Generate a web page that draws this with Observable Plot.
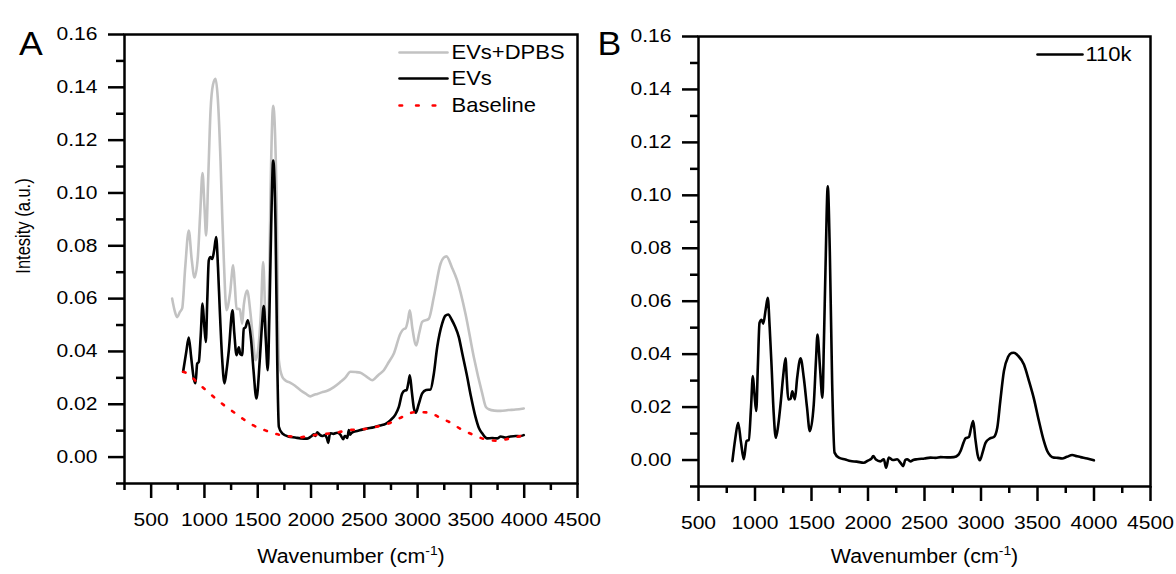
<!DOCTYPE html>
<html><head><meta charset="utf-8">
<script src="https://cdn.jsdelivr.net/npm/d3@7"></script>
<script src="https://cdn.jsdelivr.net/npm/@observablehq/plot@0.6"></script>
<style>
body{margin:0;background:#fff;}
#wrap{position:relative;width:1176px;height:574px;overflow:hidden;background:#fff;}
#wrap svg{position:absolute;top:0;}
</style></head><body><div id="wrap"></div>
<script>
// ---------- Panel A data ----------
const dpbsWn = [697,720,744,770,791,820,853,880,907,938,960,982,1000,1016,1035,1057,1080,1104,1125,1151,1168,1182,1207,1240,1270,1285,1301,1332,1354,1369,1401,1432,1455,1479,1510,1530,1551,1570,1589,1605,1620,1645,1676,1698,1730,1760,1807,1850,1901,1950,1995,2030,2058,2100,2152,2214,2277,2320,2370,2420,2464,2520,2574,2630,2683,2730,2777,2839,2870,2886,2910,2927,2950,2987,3015,3043,3105,3152,3215,3245,3271,3320,3371,3449,3527,3606,3640,3668,3720,3778,3850,3920,3996];
const dpbsVal = [0.060,0.0555,0.053,0.055,0.0563,0.072,0.0858,0.075,0.068,0.0757,0.092,0.1075,0.095,0.0839,0.105,0.131,0.141,0.1432,0.136,0.112,0.090,0.0745,0.0556,0.062,0.0726,0.065,0.0562,0.056,0.0505,0.0575,0.0631,0.0544,0.045,0.0367,0.043,0.055,0.0738,0.055,0.0393,0.060,0.0998,0.133,0.0997,0.0367,0.0304,0.029,0.0281,0.027,0.0253,0.0240,0.0230,0.0236,0.0239,0.0245,0.0251,0.0265,0.0285,0.030,0.0323,0.0322,0.0319,0.0305,0.0291,0.031,0.0329,0.036,0.0392,0.0468,0.0485,0.0487,0.052,0.0556,0.049,0.0423,0.047,0.0512,0.0524,0.0606,0.0732,0.0755,0.076,0.072,0.0669,0.0543,0.0379,0.0241,0.019,0.0181,0.0176,0.0175,0.0178,0.0180,0.0184];

const evsWn = [800,830,853,875,900,916,932,947,965,982,998,1013,1027,1041,1057,1073,1090,1110,1127,1144,1165,1188,1208,1229,1263,1280,1301,1323,1336,1354,1369,1385,1407,1438,1460,1488,1519,1540,1557,1575,1594,1610,1626,1645,1667,1683,1698,1730,1792,1850,1901,1964,2000,2026,2040,2058,2080,2105,2130,2150,2161,2175,2183,2210,2245,2275,2302,2315,2324,2340,2355,2365,2377,2400,2433,2480,2527,2590,2652,2700,2746,2790,2824,2855,2880,2896,2915,2927,2945,2965,2983,3010,3043,3080,3121,3150,3184,3230,3260,3287,3320,3350,3386,3420,3465,3500,3543,3575,3606,3652,3700,3746,3780,3820,3871,3920,3960,3996];
const evsVal = [0.0323,0.040,0.0453,0.038,0.0297,0.028,0.0354,0.036,0.046,0.0581,0.050,0.0436,0.060,0.0745,0.0757,0.0750,0.078,0.0833,0.072,0.0556,0.038,0.0279,0.033,0.0405,0.0556,0.047,0.0386,0.0416,0.039,0.0386,0.0487,0.0491,0.0518,0.0442,0.033,0.0222,0.0367,0.050,0.0572,0.045,0.0329,0.055,0.0871,0.1123,0.0871,0.0367,0.0115,0.009,0.0077,0.0074,0.0071,0.0070,0.0078,0.0086,0.0080,0.0094,0.0085,0.0080,0.0083,0.0070,0.0054,0.0085,0.0090,0.0088,0.0092,0.0085,0.0068,0.0080,0.0080,0.0072,0.0102,0.0085,0.0090,0.0096,0.0099,0.0104,0.0108,0.0113,0.0120,0.0126,0.0140,0.0160,0.0190,0.0241,0.0252,0.0253,0.0285,0.031,0.0250,0.0185,0.0168,0.020,0.0241,0.0254,0.0256,0.031,0.0417,0.0505,0.0535,0.054,0.052,0.0495,0.0455,0.039,0.0304,0.023,0.0152,0.011,0.009,0.0071,0.0072,0.0071,0.0078,0.0074,0.0078,0.0080,0.0079,0.0083];

const baseWn = [800,853,925,1016,1104,1192,1282,1364,1454,1566,1676,1792,1900,1964,2089,2230,2355,2495,2636,2746,2850,2975,3105,3205,3305,3402,3512,3637,3740,3871,3990];
const baseVal = [0.0323,0.0314,0.0285,0.0253,0.0222,0.0194,0.0168,0.0144,0.0121,0.0102,0.0087,0.0079,0.0075,0.0079,0.0086,0.0092,0.0102,0.0106,0.0117,0.013,0.0151,0.0170,0.0169,0.0150,0.0131,0.0107,0.0086,0.0067,0.0062,0.0071,0.0082];

// ---------- Panel B data ----------
const k110Wn = [800,825,851,875,901,925,945,965,981,995,1011,1025,1040,1058,1073,1095,1113,1130,1146,1165,1184,1205,1226,1250,1270,1282,1294,1315,1330,1353,1373,1403,1432,1460,1485,1520,1540,1553,1575,1597,1610,1624,1644,1662,1683,1704,1742,1800,1845,1900,1963,2000,2030,2046,2070,2110,2140,2160,2184,2220,2258,2290,2311,2330,2346,2376,2400,2435,2500,2553,2600,2642,2700,2760,2800,2819,2845,2863,2893,2912,2931,2950,2970,2990,3015,3040,3080,3114,3144,3170,3203,3240,3270,3291,3330,3380,3425,3468,3510,3556,3586,3615,3645,3680,3718,3760,3807,3850,3881,3940,3999];
const k110Val = [-0.0004,0.008,0.0141,0.007,0.0003,0.0072,0.0075,0.020,0.0317,0.025,0.0185,0.035,0.0518,0.053,0.0515,0.057,0.0613,0.050,0.0361,0.018,0.0084,0.013,0.021,0.032,0.0384,0.030,0.0229,0.0231,0.026,0.0229,0.031,0.0384,0.031,0.020,0.0109,0.021,0.038,0.0474,0.035,0.0235,0.045,0.0726,0.1034,0.0789,0.0286,0.0028,0.0009,0.0002,-0.0004,-0.0006,-0.0010,-0.0002,0.0005,0.0015,0.0002,-0.0005,0.0003,-0.0029,0.0009,0.0000,0.0003,-0.0012,-0.0023,0.0000,0.0003,-0.0005,0.0000,0.0003,0.0006,0.0009,0.0008,0.0011,0.0010,0.0011,0.0020,0.0034,0.0065,0.0082,0.0087,0.012,0.0147,0.008,0.002,-0.0001,0.003,0.0065,0.0082,0.0087,0.0122,0.022,0.0336,0.0390,0.0404,0.0405,0.0393,0.0361,0.0298,0.0232,0.0152,0.0072,0.0034,0.0016,0.0009,0.0008,0.0006,0.0012,0.0019,0.0014,0.0011,0.0006,-0.0001];

// ---------- ticks & labels ----------
const xMajor = [500,1000,1500,2000,2500,3000,3500,4000,4500];
const xMinorA = [250,750,1250,1750,2250,2750,3250,3750,4250];
const xMinorB = [750,1250,1750,2250,2750,3250,3750,4250];
const yMajor = [0,0.02,0.04,0.06,0.08,0.10,0.12,0.14,0.16];
const yMinor = [-0.01,0.01,0.03,0.05,0.07,0.09,0.11,0.13,0.15];
const xTitle = "Wavenumber (cm-1)";
const yTitle = "Intesity (a.u.)";
const legendA = ["EVs+DPBS","EVs","Baseline"];
const legendB = ["110k"];

const zip = (w, v) => w.map((x, i) => ({x, y: v[i]}));
const FONT = "'Liberation Sans', Arial, Helvetica, sans-serif";

function axes(minorX) {
  return [
    Plot.axisX({ticks: xMajor, tickSize: 15, tickPadding: 15, strokeWidth: 2.5, tickFormat: d => String(d), label: null, fontSize: 18}),
    Plot.axisX({ticks: minorX, tickSize: 7, strokeWidth: 2.5, tickFormat: () => "", label: null}),
    Plot.axisY({ticks: yMajor, tickSize: 16, tickPadding: 11, strokeWidth: 2.5, tickFormat: d3.format(".2f"), label: null, fontSize: 18}),
    Plot.axisY({ticks: yMinor, tickSize: 8, strokeWidth: 2.5, tickFormat: () => "", label: null}),
    Plot.frame({stroke: "#000", strokeWidth: 2.5})
  ];
}

// legend helper: pixel -> data via the same linear mapping as the panel frame
function legendMarks(items, xd, yd, frame, pos) {
  const sx = d3.scaleLinear([frame.l, frame.r], xd);
  const sy = d3.scaleLinear([frame.b, frame.t], yd);
  const marks = [];
  items.forEach((it, i) => {
    const y = sy(pos.y[i]);
    const x1 = it.dash ? pos.x1d : pos.x1;
    marks.push(Plot.line([{x: sx(pos.x0), y}, {x: sx(x1), y}], {x: "x", y: "y", stroke: it.color, strokeWidth: 2.6, strokeDasharray: it.dash || null}));
    marks.push(Plot.text([it.name], {x: sx(pos.tx), y, text: d => d, textAnchor: "start", fontSize: 20, fill: "#000"}));
  });
  return marks;
}

const wrap = document.getElementById("wrap");

// ---------- Panel A ----------
const frameA = {l: 124, r: 577, t: 34, b: 483};
const plotA = Plot.plot({
  width: 588, height: 574,
  marginTop: 34, marginBottom: 91, marginLeft: 124, marginRight: 11,
  x: {domain: [250, 4500], label: null},
  y: {domain: [-0.01, 0.16], label: null},
  style: {fontFamily: FONT, fontSize: "18px", color: "#000", background: "transparent", overflow: "visible"},
  marks: [
    ...axes(xMinorA),
    Plot.line(zip(dpbsWn, dpbsVal), {x: "x", y: "y", stroke: "#c2c2c2", strokeWidth: 2.6, curve: "monotone-x"}),
    Plot.line(zip(evsWn, evsVal), {x: "x", y: "y", stroke: "#000", strokeWidth: 2.6, curve: "monotone-x"}),
    Plot.line(zip(baseWn, baseVal), {x: "x", y: "y", stroke: "#ff0000", strokeWidth: 2.6, strokeDasharray: "2.6 10", curve: "monotone-x"}),
    ...legendMarks([
      {name: legendA[0], color: "#c2c2c2"},
      {name: legendA[1], color: "#000"},
      {name: legendA[2], color: "#ff0000", dash: "2.6 14"}
    ], [250, 4500], [-0.01, 0.16], frameA, {x0: 399, x1: 447, x1d: 436, tx: 451, y: [52, 78, 105]}),
    Plot.text(["A"], {frameAnchor: "top-left", dx: -93.5, dy: -2.5, text: d => d, fontSize: 33, textAnchor: "middle"}),
    Plot.text([yTitle], {frameAnchor: "left", dx: -101, dy: -33, rotate: -90, text: d => d, fontSize: 16.5, textAnchor: "middle"}),
    Plot.text([xTitle], {frameAnchor: "bottom", dx: 0, dy: 79.5, text: d => d, fontSize: 20, textAnchor: "middle"})
  ]
});
plotA.style.left = "0px";
wrap.appendChild(plotA);

// ---------- Panel B ----------
const frameB = {l: 110, r: 562, t: 36, b: 486};
const plotB = Plot.plot({
  width: 588, height: 574,
  marginTop: 36, marginBottom: 88, marginLeft: 110, marginRight: 26,
  x: {domain: [500, 4500], label: null},
  y: {domain: [-0.01, 0.16], label: null},
  style: {fontFamily: FONT, fontSize: "18px", color: "#000", background: "transparent", overflow: "visible"},
  marks: [
    ...axes(xMinorB),
    Plot.line(zip(k110Wn, k110Val), {x: "x", y: "y", stroke: "#000", strokeWidth: 2.6, curve: "monotone-x"}),
    ...legendMarks([{name: legendB[0], color: "#000"}], [500, 4500], [-0.01, 0.16], frameB, {x0: 1037 - 588, x1: 1082 - 588, tx: 1085 - 588, y: [54]}),
    Plot.text(["B"], {frameAnchor: "top-left", dx: -89, dy: -4.5, text: d => d, fontSize: 33, textAnchor: "middle"}),
    Plot.text([xTitle], {frameAnchor: "bottom", dx: 0, dy: 76.5, text: d => d, fontSize: 20, textAnchor: "middle"})
  ]
});
plotB.style.left = "588px";
wrap.appendChild(plotB);

// ---------- text touch-ups: superscript & the reference's wide lettering ----------
function stretch(el, sx, sy) {
  let tr = el.getAttribute("transform");
  if (!tr) {
    const xa = el.getAttribute("x");
    const x = xa !== null && !isNaN(+xa) ? +xa : 0;
    if (xa !== null && !isNaN(+xa)) el.removeAttribute("x");
    tr = `translate(${x},0)`;
  }
  el.setAttribute("transform", `${tr} scale(${sx},${sy})`);
}
[plotA, plotB].forEach(svg => {
  d3.select(svg).selectAll("text").each(function () {
    const t = d3.select(this);
    const s = this.textContent;
    if (s === "") return;
    if (s === xTitle) {
      t.text(null);
      t.append("tspan").text("Wavenumber (cm");
      t.append("tspan").attr("dy", "-8").attr("font-size", "13").text("-1");
      t.append("tspan").attr("dy", "8").text(")");
      stretch(this, 1.07, 1);
    } else if (s === yTitle) {
      stretch(this, 1, 1.2);
    } else if (legendA.includes(s) || legendB.includes(s)) {
      stretch(this, 1.1, 1);
    } else if (s === "A" || s === "B") {
      stretch(this, 1.08, 1);
    } else {
      stretch(this, 1.17, 1);
    }
  });
});
</script>
</body></html>
